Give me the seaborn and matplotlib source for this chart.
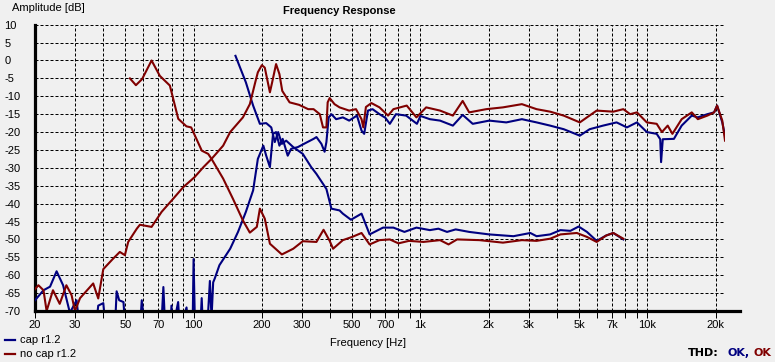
import pandas as pd
import seaborn as sns
import matplotlib.pyplot as plt
from matplotlib.lines import Line2D

# --- data (frequency in Hz, level in dB) ---
cap_hi_f = [20, 21.8, 23.3, 24.9, 26.6, 28.5, 30.5, 31.5, 37, 38, 40, 41, 45, 45.8, 47, 49.1,
            50, 58, 59.1, 61, 72, 73.6, 75, 79, 79.9, 81, 85.5, 87, 93.1, 95, 99, 100, 101.5,
            107, 108.6, 110, 116, 118, 120, 122, 124, 130, 145, 157, 170, 183, 192, 203, 209,
            217, 224, 231, 239, 247, 260, 269, 288, 313, 338, 348, 366, 378, 385, 394, 405,
            425, 455, 485, 525, 550, 565, 587, 615, 660, 700, 733, 780, 865, 965, 1000, 1100,
            1220, 1390, 1535, 1700, 2010, 2390, 2800, 3250, 3730, 4280, 5040, 5570, 6380,
            7320, 8130, 9000, 9950, 11000, 11400, 11500, 11700, 13100, 14170, 15700, 16700,
            18400, 19700, 20300, 21400, 22000]
cap_hi_db = [-67, -64.2, -63.2, -58.9, -62.8, -70.5, -67, -75, -75, -68.5, -67.8, -75, -75, -64.5,
             -67, -67.5, -75, -75, -67, -75, -75, -63.3, -75, -75, -68.5, -75, -67.5, -75, -69,
             -75, -75, -55.5, -75, -75, -66.4, -75, -70, -61.6, -72, -62, -60.9, -57.2, -52.6,
             -47.9, -42.3, -36.3, -27.5, -23.8, -26.6, -29.8, -20.5, -20, -23.8, -21.9, -26.6,
             -24.7, -24.2, -23.0, -21.9, -21.4, -23.3, -25.5, -22.8, -15.9, -15.0, -16.4,
             -15.9, -16.8, -15.4, -19.6, -20.5, -14, -13.6, -15, -16, -17.7, -15, -15.4,
             -17.7, -15.5, -16.4, -16.8, -18.2, -15.2, -17.7, -16.8, -17.3, -16.4, -17.3,
             -18.2, -19.2, -21, -19.2, -18.2, -17.3, -18.7, -17.3, -20, -20.5, -22, -28.4, -22,
             -21.9, -18.2, -15.4, -15.9, -15, -14.5, -12.6, -17.3, -21]

cap_lo_f = [153, 170, 183, 196, 209, 220, 228, 236, 245, 256, 275, 303, 330, 348, 385, 405, 440,
            455, 494, 550, 597, 684, 760, 850, 960, 1100, 1200, 1310, 1430, 1640, 2010, 2570,
            3050, 3250, 3730, 4140, 4580, 4980, 5420, 5980, 6590, 7080, 7840]
cap_lo_db = [1.3, -6.1, -12.6, -17.7, -17.5, -18.7, -22.8, -20, -23.3, -22.4, -24.2, -26.1, -29.8,
             -31.7, -35.9, -41.4, -41.9, -42.8, -44.5, -42.8, -48.6, -46.7, -46.7, -47.9, -46.7,
             -47.4, -47, -47.9, -47.2, -47.9, -48.6, -49.1, -48.2, -49.1, -48.6, -47.4, -47.6,
             -46.4, -47.9, -50.4, -48.9, -48.2, -50]

nocap_hi_f = [20, 20.7, 21.8, 22.5, 24, 25.7, 27.5, 29, 30, 31.6, 36.1, 38, 40, 44, 47.3, 49.8,
              51.5, 56.2, 58, 65.3, 72.3, 81.4, 90, 101, 110.5, 120, 135, 145, 165, 177, 187,
              192, 200, 206, 217, 222, 231, 239, 246, 265, 292, 320, 338, 360, 372, 385, 390,
              398, 418, 440, 485, 520, 550, 560, 575, 608, 660, 720, 760, 870, 960, 1060, 1220,
              1390, 1535, 1640, 1950, 2310, 2800, 3250, 3730, 4280, 5040, 5980, 7080, 7840,
              8400, 9000, 9950, 11000, 11600, 12300, 12900, 14170, 15700, 16700, 18400, 19700,
              20300, 21400, 22000]
nocap_hi_db = [-63.9, -62.8, -64.2, -70, -64.2, -68, -62.8, -65.6, -70, -66.4, -62.3, -66.5, -58.3,
               -55.5, -53.5, -54.4, -50.7, -47, -45.9, -46.5, -42.3, -38.6, -35.4, -32.6, -29.8,
               -27.5, -23.8, -20, -15.9, -12.2, -6.1, -3.3, -1.3, -2, -8.9, -6.1, -1, -3.8, -8.5,
               -11.7, -12.4, -13.6, -13.6, -15, -18.7, -18.7, -11.7, -10.5, -12.2, -13.1, -14,
               -13.6, -16.4, -18.7, -13, -11.9, -13.1, -15.4, -13.6, -12.6, -15.9, -13.1, -14,
               -15.4, -11.3, -14.5, -13.6, -13.1, -12.2, -13.6, -14.3, -15.4, -17.3, -14, -14.3,
               -13.6, -15, -14.5, -17.3, -17.7, -20, -18.2, -20.5, -16.4, -14.5, -16.4, -15.4,
               -14.5, -12.6, -16.8, -22.4]

nocap_lo_f = [52.4, 55.7, 59.3, 65.3, 71, 78.6, 85.6, 93, 97.6, 108.7, 116, 120, 135, 149, 165,
              177, 190, 196, 206, 217, 245, 275, 303, 348, 374, 398, 412, 455, 500, 550, 597,
              660, 733, 800, 890, 1030, 1220, 1330, 1450, 1820, 2310, 2800, 3250, 3730, 4140,
              4890, 5420, 5980, 6590, 7080, 7840]
nocap_lo_db = [-5, -6.9, -5.2, 0, -4.3, -7, -16.3, -18.4, -18.7, -25.2, -26.1, -27.5, -33, -38.6,
               -44.7, -48.1, -46.5, -41.4, -44.2, -51.2, -54.2, -52.6, -50.5, -50.7, -47.3, -50.4,
               -52.6, -50.2, -49.3, -48.2, -51.4, -50.2, -50, -51.1, -50.4, -50.7, -50.2, -51.4,
               -50, -50.2, -50.9, -50.2, -50.4, -49.8, -48.6, -48.2, -49.3, -50.7, -48.9, -48.2,
               -49.8]

x_major = [20, 30, 50, 70, 100, 200, 300, 500, 700, 1000, 2000, 3000, 5000, 7000, 10000, 20000]
x_labels = ['20', '30', '50', '70', '100', '200', '300', '500', '700',
            '1k', '2k', '3k', '5k', '7k', '10k', '20k']
x_minor = [40, 60, 80, 90, 400, 600, 800, 900, 4000, 6000, 8000, 9000]
y_ticks = list(range(10, -75, -5))

BLUE = '#000080'
RED = '#800000'
BG = '#f0f0f0'
W, H = 775, 362

plt.rcParams['font.family'] = ['Liberation Sans', 'DejaVu Sans']
sns.set_style({'axes.facecolor': BG, 'figure.facecolor': BG})
plt.rcParams['font.family'] = ['Liberation Sans', 'DejaVu Sans']

fig = plt.figure(figsize=(W / 100, H / 100), dpi=100, facecolor=BG)
ax = fig.add_axes([35 / W, 1 - 311 / H, 690 / W, (311 - 24.7) / H])
ax.set_facecolor(BG)

series = [(cap_hi_f, cap_hi_db, BLUE), (cap_lo_f, cap_lo_db, BLUE),
          (nocap_hi_f, nocap_hi_db, RED), (nocap_lo_f, nocap_lo_db, RED)]
for f, db, col in series:
    df = pd.DataFrame({'freq': f, 'db': db})
    sns.lineplot(data=df, x='freq', y='db', ax=ax, color=col, linewidth=1.5,
                 estimator=None, legend=False, zorder=3)

ax.set_xscale('log')
ax.set_xlim(20, 22000)
ax.set_ylim(-70, 10)

ax.set_xticks(x_major)
ax.set_xticklabels(x_labels)
ax.set_xticks(x_minor, minor=True)
ax.set_xticklabels([], minor=True)
ax.set_yticks(y_ticks)
ax.set_yticklabels([str(v) for v in y_ticks])
for lbl in ax.get_yticklabels():
    lbl.set_ha('left')

ax.tick_params(axis='x', which='both', direction='out', length=5, width=0.72,
               color='black', labelsize=8, pad=1.5)
ax.tick_params(axis='y', which='both', length=0, labelsize=8, pad=22)
ax.grid(True, which='both', axis='both', color='black', linestyle=(0, (3, 2)),
        linewidth=0.72, zorder=1)
ax.set_axisbelow(True)

for s in ['top', 'right', 'bottom']:
    ax.spines[s].set_visible(False)
ax.spines['left'].set_linewidth(2.3)
ax.spines['left'].set_color('black')
ax.plot([20, 25500], [-70, -70], color='black', lw=2.3, clip_on=False, zorder=4)
ax.set_xlabel('')
ax.set_ylabel('')

fig.text(339 / W, 1 - 11 / H, 'Frequency Response', ha='center', va='center',
         fontsize=8, fontweight='bold')
fig.text(12 / W, 1 - 8 / H, 'Amplitude [dB]', ha='left', va='center', fontsize=8)
fig.text(368 / W, 1 - 343 / H, 'Frequency [Hz]', ha='center', va='center', fontsize=8)

# legend
for yy, col, name in [(340, BLUE, 'cap r1.2'), (354, RED, 'no cap r1.2')]:
    fig.add_artist(Line2D([5 / W, 15 / W], [1 - yy / H, 1 - yy / H], color=col, lw=1.6))
    fig.text(20 / W, 1 - yy / H, name, ha='left', va='center', fontsize=8)

thd_y = 1 - 353 / H
fig.text(688 / W, thd_y, 'THD:', ha='left', va='center', fontsize=8, fontweight='bold',
         family='DejaVu Sans')
fig.text(727 / W, thd_y, 'OK,', ha='left', va='center', fontsize=8, fontweight='bold',
         family='DejaVu Sans', color=BLUE)
fig.text(753 / W, thd_y, 'OK', ha='left', va='center', fontsize=8, fontweight='bold',
         family='DejaVu Sans', color=RED)

fig.savefig('out.png', dpi=100, facecolor=BG)
